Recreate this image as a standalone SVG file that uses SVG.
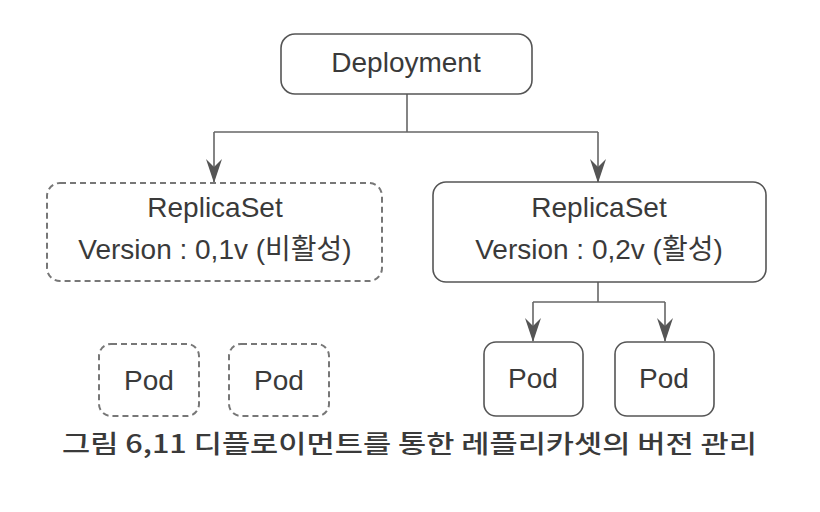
<svg xmlns="http://www.w3.org/2000/svg" width="820" height="512" viewBox="0 0 820 512">
<style>
.box{fill:#fff;stroke:#555;stroke-width:1.6}
.dash{fill:#fff;stroke:#777;stroke-width:2;stroke-dasharray:6 4}
.t{font-family:"Liberation Sans","Noto Sans CJK KR",sans-serif;fill:#3a3a3a;text-anchor:middle;font-size:28px}
.cap{font-family:"Noto Sans CJK KR","Liberation Sans",sans-serif;fill:#3a3a3a;font-size:25px;font-weight:500}
.ln{fill:none;stroke:#666;stroke-width:1.6}
</style>
<defs>
<marker id="ah" viewBox="0 0 24 18" refX="23" refY="9" markerWidth="24" markerHeight="18" markerUnits="userSpaceOnUse" orient="auto">
<path d="M24 9 L0 1 L8 9 L0 17 Z" fill="#555"/>
</marker>
</defs>
<rect width="820" height="512" fill="#fff"/>
<g id="connectors">
<path class="ln" d="M407 94 V132"/>
<path class="ln" d="M214 132 H598"/>
<path class="ln" d="M214 132 V182" marker-end="url(#ah)"/>
<path class="ln" d="M598 132 V182" marker-end="url(#ah)"/>
<path class="ln" d="M598 282 V302"/>
<path class="ln" d="M533 302 H665"/>
<path class="ln" d="M533 302 V341" marker-end="url(#ah)"/>
<path class="ln" d="M665 302 V341" marker-end="url(#ah)"/>
</g>
<g id="deployment">
<rect class="box" x="281" y="34" width="251" height="60" rx="14"/>
<text class="t" x="406" y="72">Deployment</text>
</g>
<g id="rs-old">
<rect class="dash" x="47" y="183" width="335" height="98" rx="13"/>
<text class="t" x="215" y="217">ReplicaSet</text>
<text class="t" x="215" y="259">Version : 0,1v (비활성)</text>
</g>
<g id="rs-new">
<rect class="box" x="433" y="182" width="333" height="100" rx="13"/>
<text class="t" x="599" y="217">ReplicaSet</text>
<text class="t" x="599" y="259">Version : 0,2v (활성)</text>
</g>
<g id="pod-old-1">
<rect class="dash" x="99" y="344" width="100" height="72" rx="12"/>
<text class="t" x="149" y="390">Pod</text>
</g>
<g id="pod-old-2">
<rect class="dash" x="229" y="344" width="100" height="72" rx="12"/>
<text class="t" x="279" y="390">Pod</text>
</g>
<g id="pod-new-1">
<rect class="box" x="484" y="342" width="99" height="74" rx="12"/>
<text class="t" x="533" y="388">Pod</text>
</g>
<g id="pod-new-2">
<rect class="box" x="615" y="342" width="99" height="74" rx="12"/>
<text class="t" x="664" y="388">Pod</text>
</g>
<text class="cap" x="62" y="453" textLength="695" lengthAdjust="spacingAndGlyphs">그림 6,11 디플로이먼트를 통한 레플리카셋의 버전 관리</text>
</svg>
